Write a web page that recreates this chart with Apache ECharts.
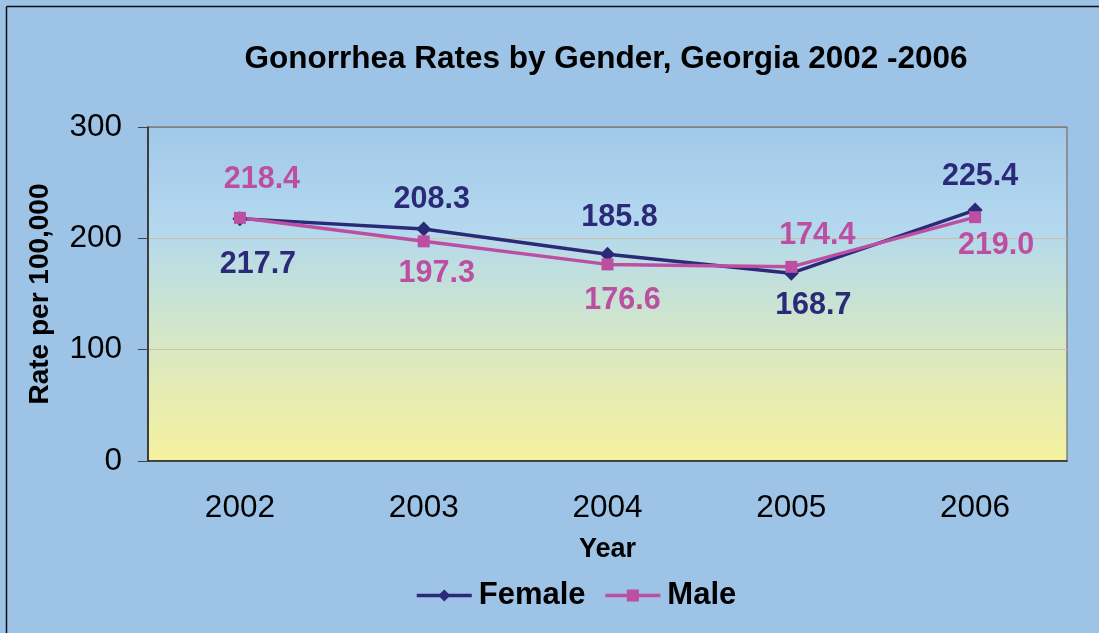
<!DOCTYPE html>
<html>
<head>
<meta charset="utf-8">
<script src="https://cdn.jsdelivr.net/npm/echarts@6/dist/echarts.min.js"></script>
<style>
  html, body { margin: 0; padding: 0; background: #9dc3e6; overflow: hidden; }
  #chart { width: 1099px; height: 633px; }
</style>
</head>
<body>
<div id="chart"></div>
<script>
const years = ['2002', '2003', '2004', '2005', '2006']
const female = [217.7, 208.3, 185.8, 168.7, 225.4]
const male = [218.4, 197.3, 176.6, 174.4, 219.0]
const yTicks = [0, 100, 200, 300]

// where each value label sits relative to its point
const femaleLabelShift = [[18, 46], [8, -29], [12, -37], [22, 32], [5, -33]]
const maleLabelShift = [[22, -38], [13, 32], [15, 36], [26, -31], [21, 28]]

const font = 'Liberation Sans, Arial, sans-serif'
const navy = '#2b2a78'
const pink = '#bd4fa2'

function withLabels(values, shifts) {
  return values.map((v, i) => ({
    value: v,
    label: { offset: shifts[i] }
  }))
}

const chart = echarts.init(document.getElementById('chart'))
chart.setOption({
  backgroundColor: '#9dc3e6',
  animation: false,
  title: {
    text: 'Gonorrhea Rates by Gender, Georgia 2002 -2006',
    left: 606,
    top: 43,
    padding: 0,
    textAlign: 'center',
    textStyle: { fontFamily: font, fontSize: 31.5, fontWeight: 'bold', color: '#000' }
  },
  // outer frame: only the left and top edges fall inside the picture
  graphic: [
    {
      type: 'line',
      shape: { x1: 6.5, y1: 6.5, x2: 6.5, y2: 633 },
      style: { stroke: '#111', lineWidth: 1.5 },
      silent: true
    },
    {
      type: 'line',
      shape: { x1: 6.5, y1: 6.5, x2: 1099, y2: 6.5 },
      style: { stroke: '#111', lineWidth: 1.5 },
      silent: true
    }
  ],
  legend: {
    top: 580,
    left: 415,
    padding: 0,
    itemWidth: 55,
    itemHeight: 15,
    itemGap: 18,
    lineStyle: { width: 3.5 },
    textStyle: {
      fontFamily: font, fontSize: 31, fontWeight: 'bold', color: '#000',
      padding: [0, 0, 0, 2]
    },
    data: ['Female', 'Male']
  },
  grid: {
    left: 148, right: 32, top: 127, bottom: 172,
    show: true,
    borderColor: '#808080',
    borderWidth: 1.5,
    backgroundColor: {
      type: 'linear', x: 0, y: 0, x2: 0, y2: 1,
      colorStops: [
        { offset: 0, color: '#a2c8ea' },
        { offset: 0.3, color: '#b3d8ee' },
        { offset: 0.5, color: '#c6e2d6' },
        { offset: 0.75, color: '#e2ebb8' },
        { offset: 1, color: '#f4f29e' }
      ]
    }
  },
  xAxis: {
    type: 'category',
    data: years,
    boundaryGap: true,
    name: 'Year',
    nameLocation: 'middle',
    nameGap: 75,
    nameTextStyle: { fontFamily: font, fontSize: 27, fontWeight: 'bold', color: '#000' },
    axisLine: { lineStyle: { color: '#222', width: 1.5 } },
    axisTick: { length: 10, lineStyle: { color: '#444' } },
    axisLabel: { fontFamily: font, fontSize: 31.5, color: '#000', margin: 31 },
    splitLine: { show: false }
  },
  yAxis: {
    type: 'value',
    min: yTicks[0],
    max: yTicks[yTicks.length - 1],
    interval: 100,
    name: 'Rate per 100,000',
    nameLocation: 'middle',
    nameGap: 94,
    nameTextStyle: { fontFamily: font, fontSize: 28, fontWeight: 'bold', color: '#000' },
    axisLine: { show: true, lineStyle: { color: '#222', width: 1.5 } },
    axisTick: { show: true, length: 10, lineStyle: { color: '#444' } },
    axisLabel: { fontFamily: font, fontSize: 31.5, color: '#000', margin: 26 },
    splitLine: { lineStyle: { color: ['#cdbfae', '#cdbfae', '#cdbfae', '#808080'], width: 1 } }
  },
  series: [
    {
      name: 'Female',
      type: 'line',
      data: withLabels(female, femaleLabelShift),
      symbol: 'diamond',
      symbolSize: 15,
      itemStyle: { color: navy },
      lineStyle: { color: navy, width: 3.5 },
      label: {
        show: true,
        position: 'inside',
        fontFamily: font, fontSize: 30.5, fontWeight: 'bold', color: navy,
        formatter: p => p.value.toFixed(1)
      }
    },
    {
      name: 'Male',
      type: 'line',
      data: withLabels(male, maleLabelShift),
      symbol: 'rect',
      symbolSize: 12,
      itemStyle: { color: pink },
      lineStyle: { color: pink, width: 3.5 },
      label: {
        show: true,
        position: 'inside',
        fontFamily: font, fontSize: 30.5, fontWeight: 'bold', color: pink,
        formatter: p => p.value.toFixed(1)
      }
    }
  ]
})
</script>
</body>
</html>
